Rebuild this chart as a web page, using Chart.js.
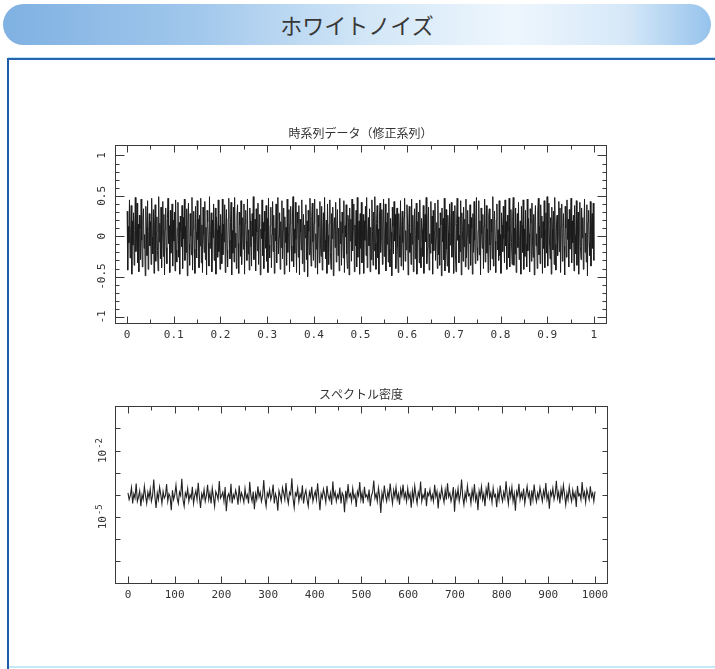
<!DOCTYPE html>
<html lang="ja">
<head>
<meta charset="utf-8">
<title>ホワイトノイズ</title>
<script src="https://cdn.jsdelivr.net/npm/chart.js@4.4.1/dist/chart.umd.min.js"></script>
<style>
  html, body { margin: 0; padding: 0; background: #fff; }
  #page { position: relative; width: 715px; height: 669px; overflow: hidden; background: #fff; }
  #banner {
    position: absolute; left: 3px; top: 4px; width: 708px; height: 41px; border-radius: 21px;
    background: linear-gradient(90deg, #7fb1e2 0%, #a2c8ec 28%, #d3e7f7 52%, #eef6fd 72%, #d6e8f8 88%, #96c3ec 100%);
    text-align: center; line-height: 41px;
    font-family: "Noto Sans CJK JP", sans-serif; font-size: 22px; color: #383838;
  }
  #topline { position: absolute; left: 8px; top: 57px; right: 0; height: 1px; background: #b9e2f4; }
  #box { position: absolute; left: 7px; top: 58px; width: 720px; height: 620px; border-left: 2px solid #1d5ca8; border-top: 2px solid #2865b1; }
  #bottomline { position: absolute; left: 9px; top: 666px; right: 0; height: 2px; background: #c6e9f7; }
  canvas { position: absolute; left: 0; }
</style>
</head>
<body>
<div id="page">
  <div id="banner">ホワイトノイズ</div>
  <div id="topline"></div>
  <div id="box"></div>
  <div id="bottomline"></div>
  <canvas id="seriesChart" width="715" height="240" style="top:110px"></canvas>
  <canvas id="spectrumChart" width="715" height="240" style="top:370px"></canvas>
</div>
<script>
// 時系列データ（修正系列）
const seriesValues = [
  0.31,-0.42,0.12,-0.08,0.45,-0.27,0.03,0.38,-0.47,0.19,-0.11,0.29,-0.36,0.07,0.48,-0.19,-0.02,0.41,-0.33,0.15,
  -0.44,0.26,0.09,-0.29,0.46,-0.05,-0.38,0.21,0.34,-0.15,0.02,-0.49,0.37,0.11,-0.24,0.44,-0.41,0.06,0.28,-0.12,
  0.18,-0.35,0.47,-0.01,-0.22,0.33,-0.46,0.14,0.39,-0.31,0.05,0.24,-0.18,-0.43,0.49,-0.07,0.16,-0.28,0.36,-0.39,
  0.01,0.43,-0.25,0.27,-0.48,0.08,0.35,-0.14,-0.34,0.22,0.47,-0.09,0.13,-0.45,0.32,-0.21,0.04,0.4,-0.37,0.2,
  -0.06,0.3,-0.43,0.45,-0.17,-0.32,0.1,0.42,-0.26,0.17,-0.47,0.25,0.06,-0.13,0.38,-0.4,0.23,-0.03,0.46,-0.3,
  0.12,-0.2,0.34,-0.49,0.19,0.41,-0.1,-0.36,0.28,0.0,-0.23,0.48,-0.42,0.09,0.31,-0.16,-0.46,0.37,0.05,-0.27,
  0.44,-0.04,0.21,-0.39,0.26,-0.12,0.47,-0.33,0.14,-0.45,0.36,0.02,-0.2,0.43,-0.29,0.11,-0.48,0.32,0.18,-0.08,
  -0.37,0.49,-0.15,0.06,0.29,-0.44,0.2,-0.02,0.4,-0.3,-0.11,0.35,-0.47,0.24,0.08,-0.26,0.45,-0.19,0.13,-0.41,
  0.27,0.03,-0.34,0.46,-0.23,0.15,-0.07,0.39,-0.45,0.1,0.33,-0.17,-0.38,0.22,0.47,-0.05,-0.28,0.17,0.42,-0.48,
  0.07,-0.21,0.36,-0.32,0.48,-0.14,0.04,-0.4,0.25,0.39,-0.09,-0.46,0.3,0.14,-0.25,0.44,-0.35,0.01,0.23,-0.16,
  0.4,-0.47,0.16,0.32,-0.06,-0.3,0.46,-0.22,0.08,-0.42,0.35,0.19,-0.13,-0.37,0.28,0.0,0.49,-0.29,-0.1,0.21,
  -0.43,0.34,0.05,-0.18,0.41,-0.35,0.12,0.27,-0.48,0.09,-0.03,0.45,-0.24,0.17,-0.4,0.31,0.06,-0.15,0.38,-0.31,
  0.22,-0.45,0.47,-0.11,-0.27,0.13,0.36,-0.39,0.02,0.43,-0.19,0.26,-0.46,0.1,-0.06,0.4,-0.33,0.2,0.48,-0.22,
  -0.01,0.29,-0.41,0.18,-0.14,0.44,-0.28,0.07,0.35,-0.47,0.24,-0.08,0.11,-0.36,0.46,-0.2,0.03,0.33,-0.44,0.15,
  0.37,-0.12,-0.31,0.25,0.49,-0.38,0.09,-0.21,0.42,-0.04,-0.45,0.3,0.16,-0.26,0.38,-0.48,0.21,0.05,-0.17,0.45,
  -0.34,0.1,0.27,-0.44,0.14,-0.02,0.39,-0.29,0.19,-0.5,0.32,0.06,-0.23,0.47,-0.13,-0.37,0.24,0.41,-0.07,-0.3,
  0.16,0.46,-0.39,0.03,-0.16,0.34,-0.47,0.26,0.12,-0.33,0.43,-0.1,-0.25,0.37,-0.42,0.08,0.29,-0.19,0.48,-0.05,
  -0.28,0.2,-0.46,0.4,0.01,-0.35,0.15,0.45,-0.2,-0.41,0.28,-0.03,0.36,-0.49,0.11,0.23,-0.14,0.42,-0.32,0.07,
  0.33,-0.24,0.1,-0.43,0.47,-0.09,0.18,-0.36,0.3,0.04,-0.27,0.44,-0.45,0.13,-0.01,0.39,-0.22,-0.4,0.26,0.17,
  -0.48,0.35,-0.06,0.21,-0.31,0.46,-0.18,0.09,0.4,-0.44,0.14,-0.12,0.32,-0.38,0.48,-0.26,0.02,0.19,-0.47,0.28,
  -0.15,0.42,-0.33,0.08,0.27,-0.46,0.19,-0.05,0.37,-0.24,0.48,-0.39,0.02,0.23,-0.12,0.34,-0.44,0.11,-0.29,0.45,
  0.06,-0.36,0.3,-0.18,0.49,-0.08,-0.41,0.16,0.38,-0.27,0.09,-0.47,0.25,0.41,-0.2,-0.03,0.33,-0.35,0.14,0.46,
  -0.25,0.03,0.4,-0.43,0.17,-0.1,0.29,-0.32,0.47,-0.16,-0.38,0.22,0.05,-0.49,0.36,0.12,-0.22,0.43,-0.06,0.27,
  -0.4,0.18,0.35,-0.13,-0.45,0.28,0.01,-0.26,0.44,-0.37,0.13,0.31,-0.08,-0.42,0.24,0.47,-0.31,0.07,-0.17,0.39,
  0.2,-0.48,0.11,0.37,-0.2,0.04,-0.35,0.46,-0.1,0.26,-0.44,0.15,0.34,-0.28,0.02,0.41,-0.47,0.18,-0.04,0.3,
  -0.33,0.45,-0.14,-0.39,0.22,0.08,-0.25,0.38,-0.46,0.12,0.27,-0.07,0.48,-0.34,-0.15,0.2,0.36,-0.42,0.03,-0.21,
  0.43,-0.09,0.25,-0.47,0.32,-0.18,0.06,0.41,-0.3,-0.02,0.17,-0.4,0.45,-0.23,0.1,-0.36,0.29,0.14,-0.49,0.35,
  -0.07,0.22,-0.29,0.47,-0.43,0.09,0.33,-0.16,-0.37,0.26,0.04,-0.45,0.4,-0.11,0.18,0.42,-0.26,-0.03,0.31,-0.46,
  0.13,0.38,-0.22,-0.44,0.16,0.47,-0.05,0.24,-0.33,0.01,-0.19,0.44,-0.48,0.29,0.07,-0.31,0.36,-0.13,0.21,-0.38,
  0.46,-0.27,0.0,0.32,-0.41,0.15,-0.09,0.39,-0.36,0.23,0.1,-0.47,0.28,-0.2,0.43,-0.05,-0.34,0.17,0.48,-0.14,
  -0.3,0.07,0.44,-0.23,0.19,-0.48,0.35,0.03,-0.15,0.27,-0.4,0.12,0.46,-0.32,-0.01,0.38,-0.21,0.09,-0.45,0.25,
  0.34,-0.11,-0.42,0.21,0.05,-0.28,0.49,-0.37,0.15,0.31,-0.06,-0.45,0.2,0.4,-0.17,0.08,-0.3,0.44,-0.24,0.02,
  -0.46,0.29,0.14,-0.19,0.37,-0.03,-0.33,0.45,-0.12,0.18,-0.41,0.26,0.06,-0.27,0.47,-0.38,0.11,0.33,-0.08,-0.35,
  0.24,0.48,-0.36,0.1,-0.22,0.35,-0.45,0.04,0.28,-0.14,0.42,-0.29,-0.05,0.19,-0.47,0.37,0.13,-0.2,0.45,-0.41,
  0.09,-0.25,0.32,-0.1,-0.38,0.46,-0.18,0.22,0.03,-0.44,0.34,0.16,-0.31,0.41,-0.07,-0.26,0.27,-0.48,0.2,0.38,
  -0.12,0.03,-0.4,0.3,0.47,-0.23,0.12,-0.34,0.39,-0.02,0.25,-0.46,0.18,-0.15,0.44,-0.39,0.07,0.29,-0.21,0.49,
  -0.37,0.17,0.41,-0.06,-0.28,0.23,-0.47,0.36,0.09,-0.17,0.31,-0.35,0.48,-0.1,-0.42,0.14,0.26,-0.24,0.02,0.43,
  -0.19,0.35,-0.45,0.12,0.4,-0.31,0.05,0.28,-0.12,-0.48,0.37,0.1,-0.26,0.45,-0.04,0.21,-0.38,0.33,-0.16,0.06,
  0.47,-0.33,0.19,-0.08,0.26,-0.43,0.38,0.01,-0.22,0.44,-0.36,0.15,0.3,-0.47,0.08,0.42,-0.13,-0.29,0.35,-0.02,
  0.23,-0.41,0.1,0.46,-0.2,0.04,-0.32,0.39,-0.49,0.17,0.32,-0.09,-0.24,0.43,-0.37,0.13,0.28,-0.15,0.41,-0.3
];
const xTicksTop = [0, 0.1, 0.2, 0.3, 0.4, 0.5, 0.6, 0.7, 0.8, 0.9, 1];
const xTickLabelsTop = ['0', '0.1', '0.2', '0.3', '0.4', '0.5', '0.6', '0.7', '0.8', '0.9', '1'];
const yTicksTop = [1, 0.5, 0, -0.5, -1];
const yTickLabelsTop = ['1', '0.5', '0', '-0.5', '-1'];

// スペクトル密度
const spectrumValues = [
  1.2e-4,6e-5,9e-5,2.1e-4,4e-5,1.1e-4,7e-5,3.2e-4,5e-5,8e-5,1.5e-4,3e-5,1e-4,6e-5,2.4e-4,9e-5,4e-5,1.3e-4,7e-5,1.8e-4,
  5e-5,9e-5,4.8e-4,8e-5,2.5e-5,1.2e-4,6e-5,2.2e-4,1e-4,4e-5,1.4e-4,7e-5,9e-5,3e-4,5e-5,1.1e-4,8e-5,2e-5,1.6e-4,6e-5,
  1e-4,2.7e-4,7e-5,4e-5,1.3e-4,9e-5,5.2e-4,6e-5,3e-5,1.2e-4,8e-5,1.9e-4,5e-5,1e-4,7e-5,2.3e-4,4e-5,9e-5,1.5e-4,6e-5,
  3.5e-4,8e-5,2.5e-5,1.1e-4,7e-5,1.7e-4,5e-5,9e-5,2.8e-4,6e-5,1.2e-4,4e-5,2e-4,8e-5,3e-5,1.4e-4,1e-4,6e-5,4.2e-4,7e-5,
  9e-5,1.3e-4,5e-5,2.2e-4,1.8e-5,8e-5,1.1e-4,6e-5,3.1e-4,4e-5,1e-4,7e-5,1.6e-4,9e-5,3.5e-5,2.6e-4,6e-5,1.2e-4,8e-5,4.5e-5,
  1.9e-4,7e-5,1e-4,4e-5,3.8e-4,9e-5,5e-5,1.4e-4,2.2e-5,1.1e-4,6e-5,2.4e-4,8e-5,1.3e-4,5e-5,9e-5,4.6e-4,7e-5,3e-5,1.2e-4,
  8e-5,1.7e-4,6e-5,1e-4,2.9e-4,4e-5,1.1e-4,7e-5,1.9e-5,1.5e-4,9e-5,5e-5,2.1e-4,1.2e-4,6e-5,3.4e-4,8e-5,4e-5,1.3e-4,1e-4,
  5.5e-4,7e-5,2.6e-5,1.2e-4,9e-5,2e-4,5e-5,1.1e-4,7e-5,2.7e-4,4e-5,1e-4,1.6e-4,6e-5,3e-5,1.3e-4,8e-5,2.3e-4,5e-5,9e-5,
  1.4e-4,6e-5,3.3e-4,8e-5,2e-5,1.1e-4,7e-5,1.8e-4,1e-4,4.5e-5,2.5e-4,9e-5,6e-5,1.2e-4,3.5e-5,4e-4,8e-5,1.3e-4,5e-5,1e-4,
  7e-5,2.1e-4,4e-5,1.2e-4,9e-5,1.6e-5,1.5e-4,6e-5,3e-4,8e-5,1.1e-4,5e-5,1.9e-4,7e-5,1e-4,2.8e-5,1.4e-4,9e-5,3.7e-4,6e-5,
  1.2e-4,4e-5,2.3e-4,8e-5,1e-4,5.8e-5,1.7e-4,3e-5,9e-5,1.3e-4,4.4e-4,7e-5,1.1e-4,5e-5,2e-4,8e-5,1.5e-5,1.2e-4,6e-5,2.6e-4,
  9e-5,5e-5,1.4e-4,7e-5,3.2e-4,1e-4,4e-5,1.6e-4,8e-5,2.2e-4,6e-5,1.1e-4,3.5e-5,1.8e-4,9e-5,2.9e-4,7e-5,1.2e-4,5e-5,1.9e-4,
  7e-5,1.1e-4,2.6e-5,1.5e-4,6e-5,2.5e-4,9e-5,4e-5,1.3e-4,8e-5,3.9e-4,5e-5,1e-4,7e-5,2e-4,3e-5,1.2e-4,9e-5,1.7e-4,6e-5,
  1e-4,5e-5,2.8e-4,8e-5,1.4e-4,2.4e-5,1.1e-4,7e-5,2.1e-4,9e-5,4.5e-5,1.6e-4,6e-5,3.3e-4,8e-5,1.2e-4,5e-5,9e-5,2.2e-4,1.7e-5,
  1.3e-4,7e-5,1.9e-4,5e-5,1e-4,4.9e-4,8e-5,3.5e-5,1.2e-4,6e-5,2.5e-4,9e-5,1.1e-4,4e-5,1.6e-4,7e-5,3e-4,5.5e-5,1e-4,2e-5,
  1.5e-4,8e-5,2.3e-4,6e-5,1.1e-4,3e-5,1.8e-4,9e-5,3.6e-4,7e-5,1.2e-4,4.5e-5,2e-4,8e-5,1e-4,2.7e-5,1.4e-4,6e-5,2.6e-4,9e-5,
  5e-5,1.3e-4,7e-5,4.1e-4,1e-4,3.8e-5,1.7e-4,8e-5,2.2e-4,5e-5,1.1e-4,1.9e-5,1.4e-4,9e-5,3.1e-4,6e-5,1.2e-4,7e-5,1.9e-4,4e-5,
  1e-4,2.4e-4,8e-5,1.3e-4,3.2e-5,1.6e-4,6e-5,2.9e-4,9e-5,4.8e-5,1.2e-4,7e-5,2.1e-4,1e-4,5e-5,1.5e-4,8e-5,3.4e-4,6e-5,1.1e-4,
  2.3e-5,1.4e-4,9e-5,2e-4,6e-5,1.1e-4,4.3e-4,7e-5,1.3e-4,4e-5,1.8e-4,8e-5,2.7e-4,1e-4,3.5e-5,1.2e-4,6e-5,2.3e-4,9e-5,5e-5,
  1.6e-4,7e-5,1.2e-4,2.8e-5,2.5e-4,9e-5,1.1e-4,6e-5,3.7e-4,8e-5,1.3e-4,4.5e-5,1.7e-4,1e-4,6e-5,2.4e-4,8e-5,1.2e-4,5e-5,1.4e-4
];
const xTicksBottom = [0, 100, 200, 300, 400, 500, 600, 700, 800, 900, 1000];
const xTickLabelsBottom = ['0', '100', '200', '300', '400', '500', '600', '700', '800', '900', '1000'];
const yTicksBottom = [1e-2, 1e-5];
const yTickLabelsBottom = ['10-2', '10-5'];

const labelFont = '11px "DejaVu Sans Mono", monospace';
const smallFont = '9px "DejaVu Sans Mono", monospace';
const titleFont = { family: '"Noto Sans CJK JP", sans-serif', size: 12, weight: 'normal', lineHeight: 1.2 };

function steps(from, to, step) {
  const out = [];
  for (let v = from; v <= to + step / 2; v += step) out.push(+v.toFixed(6));
  return out;
}

// frame with inward ticks on all four sides, labels placed through the scales
function makeFrame(cfg) {
  return {
    id: 'frameTicks',
    afterDraw(chart) {
      const { ctx, chartArea: a } = chart;
      const x = chart.scales.x, y = chart.scales.y;
      const L = Math.round(a.left) + 0.5, R = Math.round(a.right) + 0.5;
      const T = Math.round(a.top) + 0.5, B = Math.round(a.bottom) + 0.5;
      ctx.save();
      ctx.strokeStyle = '#3a3a3a';
      ctx.lineWidth = 1;
      ctx.strokeRect(L, T, R - L, B - T);
      ctx.beginPath();
      const vx = (vals, len) => vals.forEach(v => {
        const px = Math.round(x.getPixelForValue(v)) + 0.5;
        ctx.moveTo(px, B); ctx.lineTo(px, B - len);
        ctx.moveTo(px, T); ctx.lineTo(px, T + len);
      });
      const vy = (vals, len) => vals.forEach(v => {
        const py = Math.round(y.getPixelForValue(v)) + 0.5;
        ctx.moveTo(L, py); ctx.lineTo(L + len, py);
        ctx.moveTo(R, py); ctx.lineTo(R - len, py);
      });
      vx(cfg.xMajor, cfg.xMajorLen);
      vx(cfg.xMinor, cfg.xMinorLen);
      vy(cfg.yMajor, cfg.yMajorLen);
      vy(cfg.yMinor, cfg.yMinorLen);
      ctx.stroke();

      ctx.fillStyle = '#333';
      ctx.font = labelFont;
      ctx.textAlign = 'center';
      ctx.textBaseline = 'middle';
      cfg.xMajor.forEach((v, i) => ctx.fillText(cfg.xLabels[i], x.getPixelForValue(v), B + 12));

      cfg.yLabelValues.forEach((v, i) => {
        const txt = cfg.yLabels[i];
        ctx.save();
        ctx.translate(cfg.yLabelX, y.getPixelForValue(v));
        ctx.rotate(-Math.PI / 2);
        if (cfg.power) {
          const base = txt.slice(0, 2), exp = txt.slice(2);
          ctx.font = labelFont;
          const w1 = ctx.measureText(base).width;
          ctx.font = smallFont;
          const w2 = ctx.measureText(exp).width;
          const start = -(w1 + w2 + 1) / 2;
          ctx.textAlign = 'left';
          ctx.font = labelFont;
          ctx.fillText(base, start, 0);
          ctx.font = smallFont;
          ctx.fillText(exp, start + w1 + 1, -3);
        } else {
          ctx.fillText(txt, 0, 0);
        }
        ctx.restore();
      });
      ctx.restore();
    }
  };
}

new Chart(document.getElementById('seriesChart'), {
  type: 'line',
  data: {
    datasets: [{
      data: seriesValues.map((v, i) => ({ x: i / (seriesValues.length - 1), y: v })),
      borderColor: '#1b1b1b',
      borderWidth: 1,
      pointRadius: 0,
      tension: 0
    }]
  },
  options: {
    responsive: false,
    animation: false,
    events: [],
    layout: { padding: { left: 115, right: 109, top: 0, bottom: 27 } },
    scales: {
      x: { type: 'linear', display: false, min: -0.026, max: 1.026 },
      y: { type: 'linear', display: false, min: -1.075, max: 1.125 }
    },
    plugins: {
      legend: { display: false },
      tooltip: { enabled: false },
      title: { display: true, text: '時系列データ（修正系列）', color: '#333', font: titleFont, padding: { top: 16, bottom: 5 } }
    }
  },
  plugins: [makeFrame({
    xMajor: xTicksTop, xLabels: xTickLabelsTop, xMinor: steps(0.05, 0.95, 0.1),
    xMajorLen: 7, xMinorLen: 4,
    yMajor: yTicksTop, yMinor: steps(-0.9, 0.9, 0.1), yMajorLen: 9, yMinorLen: 4,
    yLabelValues: yTicksTop, yLabels: yTickLabelsTop, yLabelX: 102, power: false
  })]
});

new Chart(document.getElementById('spectrumChart'), {
  type: 'line',
  data: {
    datasets: [{
      data: spectrumValues.map((v, i) => ({ x: i * 1000 / (spectrumValues.length - 1), y: v })),
      borderColor: '#222',
      borderWidth: 1.1,
      pointRadius: 0,
      tension: 0
    }]
  },
  options: {
    responsive: false,
    animation: false,
    events: [],
    layout: { padding: { left: 115, right: 108, top: 0, bottom: 27 } },
    scales: {
      x: { type: 'linear', display: false, min: -27.8, max: 1025.7 },
      y: { type: 'logarithmic', display: false, min: 1e-8, max: 1 }
    },
    plugins: {
      legend: { display: false },
      tooltip: { enabled: false },
      title: { display: true, text: 'スペクトル密度', color: '#333', font: titleFont, padding: { top: 17, bottom: 5 } }
    }
  },
  plugins: [makeFrame({
    xMajor: xTicksBottom, xLabels: xTickLabelsBottom, xMinor: steps(50, 950, 100),
    xMajorLen: 7, xMinorLen: 4,
    yMajor: [1e-7, 1e-6, 1e-5, 1e-4, 1e-3, 1e-2, 1e-1], yMinor: [], yMajorLen: 5, yMinorLen: 0,
    yLabelValues: yTicksBottom, yLabels: yTickLabelsBottom, yLabelX: 103, power: true
  })]
});
</script>
</body>
</html>
